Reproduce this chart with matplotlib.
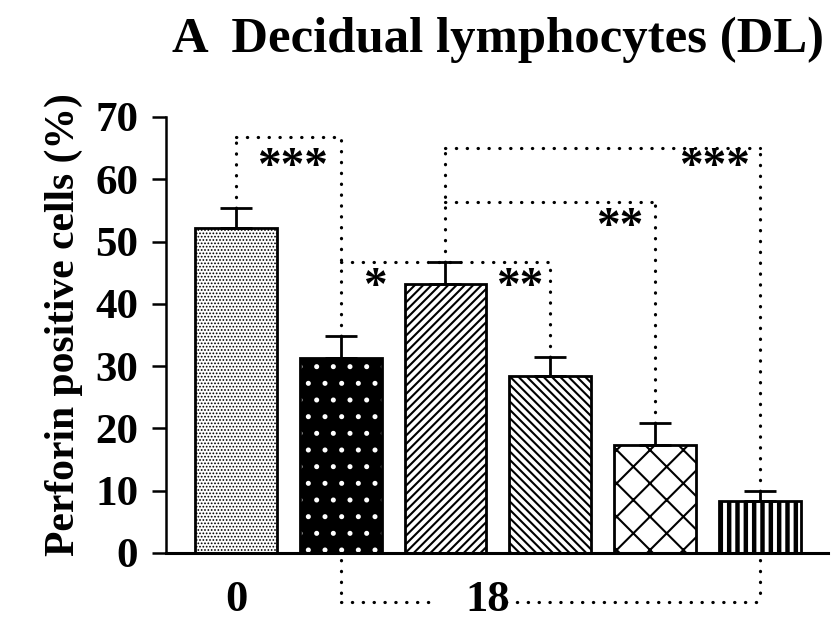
import matplotlib
matplotlib.use('Agg')
import matplotlib.pyplot as plt
import numpy as np

plt.rcParams['font.family'] = ['Liberation Serif', 'DejaVu Serif']
plt.rcParams['font.weight'] = 'bold'
plt.rcParams['hatch.linewidth'] = 1.4

# data
means = [52.2, 31.3, 43.2, 28.4, 17.3, 8.3]
errs = [3.2, 3.5, 3.5, 3.1, 3.6, 1.7]
hatches = ['.....', '.', '////', r'\\\\', 'x', '||']
hatch_lws = [0.8, 1.2, 1.5, 1.5, 1.5, 3.2]
faces = ['white', 'black', 'white', 'white', 'white', 'white']
hatch_cols = ['black', 'white', 'black', 'black', 'black', 'black']

# significance brackets: (bar_a, bar_b, level, label, label_x, label_y)
brackets = [
    (0, 1, 66.8, '***', 0.54, 61.8),
    (1, 3, 46.7, '*', 1.33, 42.6),
    (2, 4, 56.3, '**', 3.66, 52.2),
    (2, 5, 65.0, '***', 4.57, 61.8),
]
extra_labels = [('**', 2.71, 42.6)]

x = np.arange(len(means))
tops = [m + e for m, e in zip(means, errs)]

fig = plt.figure(figsize=(8.32, 6.23), dpi=100)
ax = fig.add_axes([0.1995, 0.1124, 0.7955, 0.6998])

# hatch in its own colour, then black outline on top
fill = ax.bar(x, means, width=0.78, color=faces, edgecolor=hatch_cols, linewidth=0,
              hatch=hatches, zorder=2)
for p, lw in zip(fill.patches, hatch_lws):
    p.set_hatch_linewidth(lw)
ax.bar(x, means, width=0.78, fill=False, edgecolor='black', linewidth=2, zorder=3)

ax.errorbar(x, means, yerr=[np.zeros(len(errs)), errs], fmt='none', ecolor='black',
            elinewidth=2, capsize=11.5, capthick=2, zorder=4)

dot = dict(color='black', lw=2.3, linestyle=(0, (0.1, 3.3)), dash_capstyle='round', zorder=1)

# vertical legs from each error bar top up to the highest bracket that uses it
leg_top = {}
for a, b, lvl, lab, lx, ly in brackets:
    for i in (a, b):
        leg_top[i] = max(leg_top.get(i, 0), lvl)
    ax.plot([a, b], [lvl, lvl], **dot)
    ax.text(lx, ly, lab, ha='center', va='center', fontsize=34, fontweight='bold')
for i, t in leg_top.items():
    ax.plot([i, i], [tops[i], t], **dot)
for lab, lx, ly in extra_labels:
    ax.text(lx, ly, lab, ha='center', va='center', fontsize=34, fontweight='bold')

# group bracket below the axis
gy = -7.9
ax.plot([1, 1], [-1.1, gy], clip_on=False, **dot)
ax.plot([5, 5], [-1.1, gy], clip_on=False, **dot)
ax.plot([1, 1.85], [gy, gy], clip_on=False, **dot)
ax.plot([2.58, 5], [gy, gy], clip_on=False, **dot)
ax.text(2.4, -7.6, '18', ha='center', va='center', fontsize=32, fontweight='bold')
ax.text(0, -7.6, '0', ha='center', va='center', fontsize=32, fontweight='bold')

ax.set_xlim(-0.668, 5.65)
ax.set_ylim(0, 70)
ax.set_yticks(range(0, 71, 10))
ax.set_xticks([])
ax.spines['top'].set_visible(False)
ax.spines['right'].set_visible(False)
ax.spines['left'].set_linewidth(1.8)
ax.spines['bottom'].set_linewidth(2.2)
ax.tick_params(axis='y', length=10, width=1.8, pad=10, labelsize=31)
for t in ax.get_yticklabels():
    t.set_fontweight('bold')

fig.text(64 / 832, 1 - 325 / 623, 'Perforin positive cells (%)', rotation=90,
         ha='center', va='center', fontsize=30, fontweight='bold')
fig.text(498 / 832, 1 - 40 / 623, 'A  Decidual lymphocytes (DL)',
         ha='center', va='center', fontsize=36.5, fontweight='bold')

fig.savefig('out.png', dpi=100)
